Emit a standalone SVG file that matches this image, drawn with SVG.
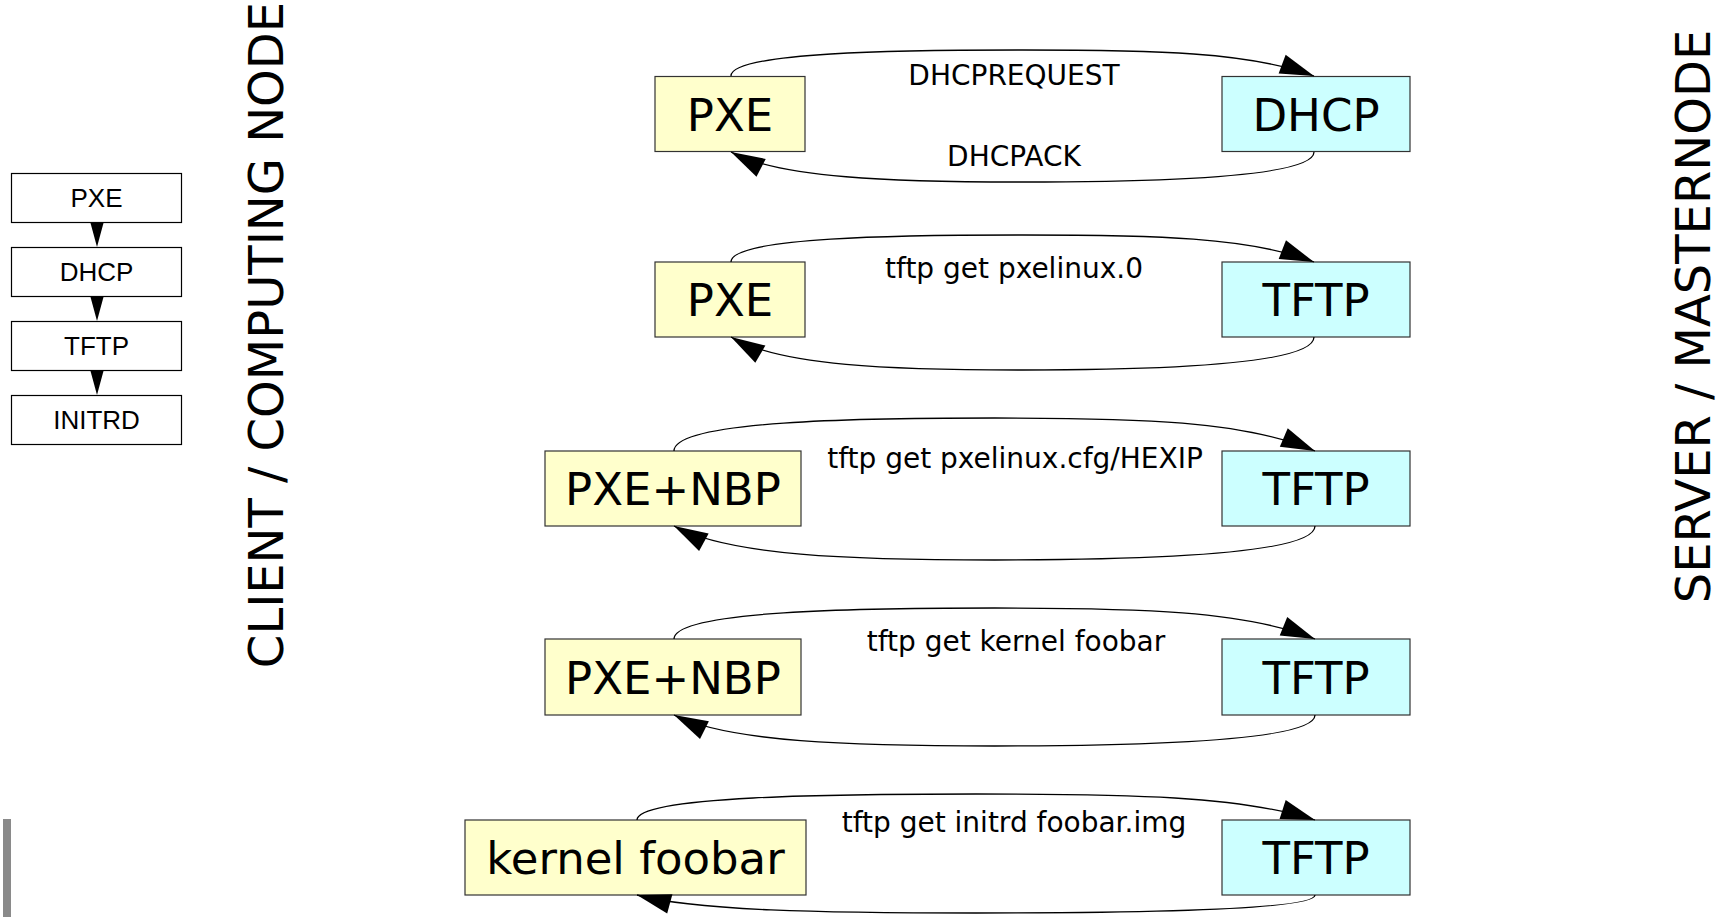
<svg xmlns="http://www.w3.org/2000/svg" width="1717" height="917" viewBox="0 0 1717 917">
<defs>
<style>
.sb{fill:#fff;stroke:#000;stroke-width:1.2}
.st{font-family:"Liberation Sans",Arial,sans-serif;font-size:26px;fill:#000;text-anchor:middle}
.cl{fill:#ffffcc;stroke:#333;stroke-width:1.2}
.sv{fill:#ccffff;stroke:#333;stroke-width:1.2}
.big{font-family:"DejaVu Sans",sans-serif;font-size:45px;fill:#000;text-anchor:middle}
.lbl{font-family:"DejaVu Sans",sans-serif;font-size:28px;fill:#000;text-anchor:middle}
.side{font-family:"DejaVu Sans",sans-serif;font-size:48px;fill:#000;text-anchor:middle}
.cv{fill:none;stroke:#000;stroke-width:1.3;marker-end:url(#ah)}
.tri{fill:#000}
</style>
<marker id="ah" markerUnits="userSpaceOnUse" markerWidth="36" markerHeight="22" refX="34" refY="10" orient="auto" overflow="visible">
<path d="M0,0 L34,10 L0,20 z" fill="#000"/>
</marker>
</defs>
<rect x="0" y="0" width="1717" height="917" fill="#fff"/>

<g id="bar"><rect x="3" y="819" width="8" height="98" fill="#8a8a8a"/></g>

<g id="seq-pxe"><rect class="sb" x="11.5" y="173.5" width="170" height="49"/><text class="st" x="96.5" y="206.5">PXE</text></g>
<g id="seq-dhcp"><rect class="sb" x="11.5" y="247.5" width="170" height="49"/><text class="st" x="96.5" y="280.5">DHCP</text></g>
<g id="seq-tftp"><rect class="sb" x="11.5" y="321.5" width="170" height="49"/><text class="st" x="96.5" y="354.5">TFTP</text></g>
<g id="seq-initrd"><rect class="sb" x="11.5" y="395.5" width="170" height="49"/><text class="st" x="96.5" y="428.5">INITRD</text></g>

<g id="client-title"><text class="side" transform="translate(283,335) rotate(-90)">CLIENT / COMPUTING NODE</text></g>
<g id="server-title"><text class="side" transform="translate(1709.5,316.5) rotate(-90)">SERVER / MASTERNODE</text></g>

<g id="n1-pxe"><rect class="cl" x="655" y="76.5" width="150" height="75"/><text class="big" x="730" y="130.5">PXE</text></g>
<g id="n1-dhcp"><rect class="sv" x="1222" y="76.5" width="188" height="75"/><text class="big" x="1316" y="130.5">DHCP</text></g>

<g id="n2-pxe"><rect class="cl" x="655" y="262" width="150" height="75"/><text class="big" x="730" y="316">PXE</text></g>
<g id="n2-tftp"><rect class="sv" x="1222" y="262" width="188" height="75"/><text class="big" x="1316" y="316">TFTP</text></g>

<g id="n3-pxenbp"><rect class="cl" x="545" y="451" width="256" height="75"/><text class="big" x="673" y="505">PXE+NBP</text></g>
<g id="n3-tftp"><rect class="sv" x="1222" y="451" width="188" height="75"/><text class="big" x="1316" y="505">TFTP</text></g>

<g id="n4-pxenbp"><rect class="cl" x="545" y="639" width="256" height="76"/><text class="big" x="673" y="693.5">PXE+NBP</text></g>
<g id="n4-tftp"><rect class="sv" x="1222" y="639" width="188" height="76"/><text class="big" x="1316" y="693.5">TFTP</text></g>

<g id="n5-kernel"><rect class="cl" x="465" y="820" width="341" height="75"/><text class="big" x="635.5" y="874">kernel foobar</text></g>
<g id="n5-tftp"><rect class="sv" x="1222" y="820" width="188" height="75"/><text class="big" x="1316" y="874">TFTP</text></g>

<g id="connectors">
<path class="tri" d="M90.5,223 L103.5,223 L97,247 z"/>
<path class="tri" d="M90.5,297 L103.5,297 L97,321 z"/>
<path class="tri" d="M90.5,371 L103.5,371 L97,395 z"/>

<path class="cv" d="M731,76 C731,52 900,50 1022.5,50 C1153.7,50 1250,52 1314,76"/>
<path class="cv" d="M1314,152 C1314,178 1145,182 1022.5,182 C891,182 780.6,178 731,152"/>
<text class="lbl" x="1014" y="85">DHCPREQUEST</text>
<text class="lbl" x="1014" y="166">DHCPACK</text>

<path class="cv" d="M731,262 C731,237 900,235 1022.5,235 C1153.7,235 1250,237 1314,262"/>
<path class="cv" d="M1314,337 C1314,366 1145,370 1022.5,370 C891,370 780.6,366 731,337"/>
<text class="lbl" x="1014" y="278">tftp get pxelinux.0</text>

<path class="cv" d="M674,451 C674,420.6 860,418 994.5,418 C1138.7,418 1244.5,420.6 1315,451"/>
<path class="cv" d="M1315,526 C1315,555.6 1129,560 994.5,560 C850.3,560 728.5,555.6 674,526"/>
<text class="lbl" x="1015" y="468">tftp get pxelinux.cfg/HEXIP</text>

<path class="cv" d="M674,639 C674,610.5 860,608 994.5,608 C1138.7,608 1244.5,610.5 1315,639"/>
<path class="cv" d="M1315,715 C1315,742 1129,746 994.5,746 C850.3,746 728.5,742 674,715"/>
<text class="lbl" x="1016" y="651">tftp get kernel foobar</text>

<path class="cv" d="M637,820 C637,796 833.6,794 976,794 C1128.6,794 1240.4,796 1315,820"/>
<path class="cv" d="M1315,895 C1315,910.7 1118.4,913 976,913 C823.5,913 694.6,910.7 637,895"/>
<text class="lbl" x="1014" y="832">tftp get initrd foobar.img</text>
</g>
</svg>
